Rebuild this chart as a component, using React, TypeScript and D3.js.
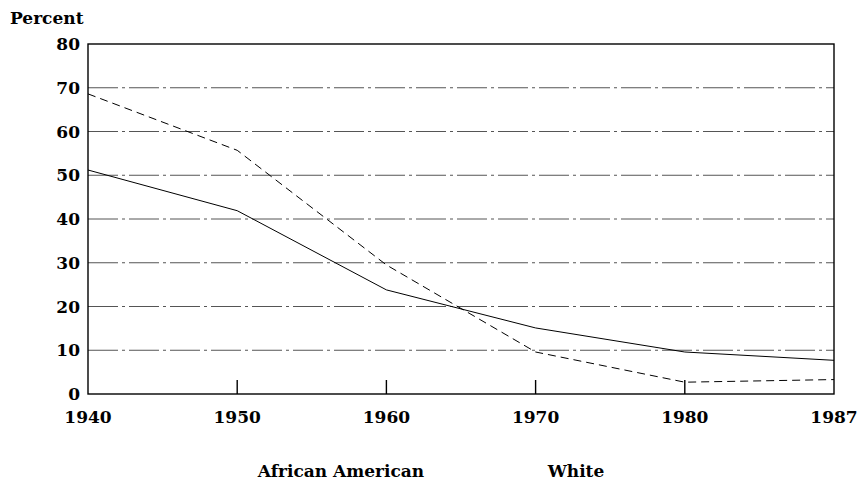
import React from 'react';
import * as d3 from 'd3';

const years = ['1940', '1950', '1960', '1970', '1980', '1987'];
const africanAmerican = [68.6, 55.7, 29.5, 9.6, 2.7, 3.3];
const white = [51.2, 41.9, 23.8, 15.1, 9.6, 7.7];
const yTicks = [0, 10, 20, 30, 40, 50, 60, 70, 80];
const gridVals = [10, 20, 30, 40, 50, 60, 70];

const W = 861;
const H = 480;
const left = 88;
const right = 834;
const top = 44;
const bottom = 394;
const font = "'DejaVu Serif', serif";

export default function App() {
  const x = d3.scalePoint<string>().domain(years).range([left, right]);
  const y = d3.scaleLinear().domain([0, 80]).range([bottom, top]);

  const line = d3
    .line<number>()
    .x((d, i) => x(years[i]) as number)
    .y(d => y(d));

  return (
    <svg
      width={W}
      height={H}
      style={{ position: 'absolute', left: 0, top: 0, background: '#fff' }}
      fontFamily={font}
      fontWeight="bold"
    >
      {/* gridlines, dash-dot like the scan */}
      {gridVals.map(v => (
        <line
          key={'g' + v}
          x1={left}
          x2={right}
          y1={y(v)}
          y2={y(v)}
          stroke="#555"
          strokeWidth={1}
          strokeDasharray="30,4,3,4"
        />
      ))}

      {/* frame */}
      <rect x={left} y={top} width={right - left} height={bottom - top} fill="none" stroke="#000" strokeWidth={1.4} />

      {/* small inner ticks on the year axis */}
      {years.slice(1, -1).map(yr => (
        <line key={'t' + yr} x1={x(yr)} x2={x(yr)} y1={bottom} y2={bottom - 14} stroke="#000" strokeWidth={1.4} />
      ))}

      {/* series */}
      <path d={line(white) || ''} fill="none" stroke="#000" strokeWidth={1} />
      <path d={line(africanAmerican) || ''} fill="none" stroke="#000" strokeWidth={1} strokeDasharray="8,5" />

      {/* y labels */}
      {yTicks.map(v => (
        <text key={'y' + v} x={80} y={y(v)} dy="0.36em" textAnchor="end" fontSize={17}>
          {v}
        </text>
      ))}
      <text x={10} y={24} fontSize={17}>Percent</text>

      {/* x labels */}
      {years.map(yr => (
        <text key={'x' + yr} x={x(yr)} y={423} textAnchor="middle" fontSize={17}>
          {yr}
        </text>
      ))}

      {/* legend labels */}
      <text x={341} y={477} textAnchor="middle" fontSize={17}>African American</text>
      <text x={576} y={477} textAnchor="middle" fontSize={17}>White</text>
    </svg>
  );
}
